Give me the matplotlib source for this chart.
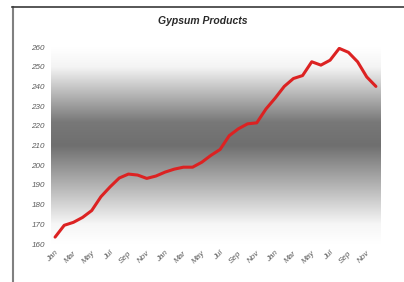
import numpy as np
import matplotlib.pyplot as plt
from matplotlib.colors import LinearSegmentedColormap
from matplotlib.lines import Line2D

# monthly index, three years Jan..Dec
months = ['Jan', 'Feb', 'Mar', 'Apr', 'May', 'Jun',
          'Jul', 'Aug', 'Sep', 'Oct', 'Nov', 'Dec'] * 3
values = [163.5, 169.5, 171.0, 173.5, 177.0, 184.0, 189.0, 193.5, 195.5, 195.0, 193.3, 194.5,
          196.5, 198.0, 199.0, 199.0, 201.5, 205.0, 208.0, 215.0, 218.5, 221.0, 221.5, 228.5,
          234.0, 240.0, 244.0, 245.5, 252.5, 250.8, 253.3, 259.3, 257.3, 252.5, 244.8, 240.0]
yticks = list(range(160, 261, 10))

plt.rcParams['font.family'] = ['Liberation Sans', 'DejaVu Sans']

fig = plt.figure(figsize=(4.04, 2.82), dpi=100)
fig.patch.set_facecolor('white')
ax = fig.add_axes([50.5 / 404, 1 - 244 / 282, 330 / 404, (244 - 47) / 282])

x = np.arange(len(values))

# white -> grey -> white vertical gradient behind the data
cmap = LinearSegmentedColormap.from_list('band', [
    (0.0, '#ffffff'), (0.1, '#f6f6f6'), (0.5, '#6f6f6f'),
    (0.62, '#787878'), (0.9, '#f4f4f4'), (1.0, '#ffffff')])
grad = np.linspace(0, 1, 256).reshape(-1, 1)
ax.imshow(grad, cmap=cmap, aspect='auto', origin='lower',
          extent=[-0.5, len(values) - 0.5, 160, 260], zorder=0)

ax.plot(x, values, color='#dc2222', lw=2.2, solid_capstyle='round',
        solid_joinstyle='round', zorder=3)

ax.set_xlim(-0.5, len(values) - 0.5)
ax.set_ylim(160, 260)
ax.set_yticks(yticks)
ax.set_yticklabels([str(v) for v in yticks], fontsize=5.8, style='italic', color='#5a5a5a')
ax.set_xticks(x[::2])
ax.set_xticklabels(months[::2], fontsize=5.8, style='italic', color='#5a5a5a',
                   rotation=45, ha='right', va='top', rotation_mode='anchor')
ax.tick_params(length=0, pad=4)
for s in ax.spines.values():
    s.set_visible(False)

fig.text(203 / 404, 1 - 21 / 282, 'Gypsum Products', ha='center', va='center',
         fontsize=7.5, fontweight='bold', style='italic', color='#2a2a2a')

# outer frame lines (left and top)
fig.add_artist(Line2D([13 / 404, 13 / 404], [0, 1 - 7 / 282], transform=fig.transFigure,
                      color='#808080', lw=1.5))
fig.add_artist(Line2D([12 / 404, 1], [1 - 7 / 282, 1 - 7 / 282], transform=fig.transFigure,
                      color='#3a3a3a', lw=1.2))

fig.savefig('out.png', dpi=100)
plt.close(fig)
